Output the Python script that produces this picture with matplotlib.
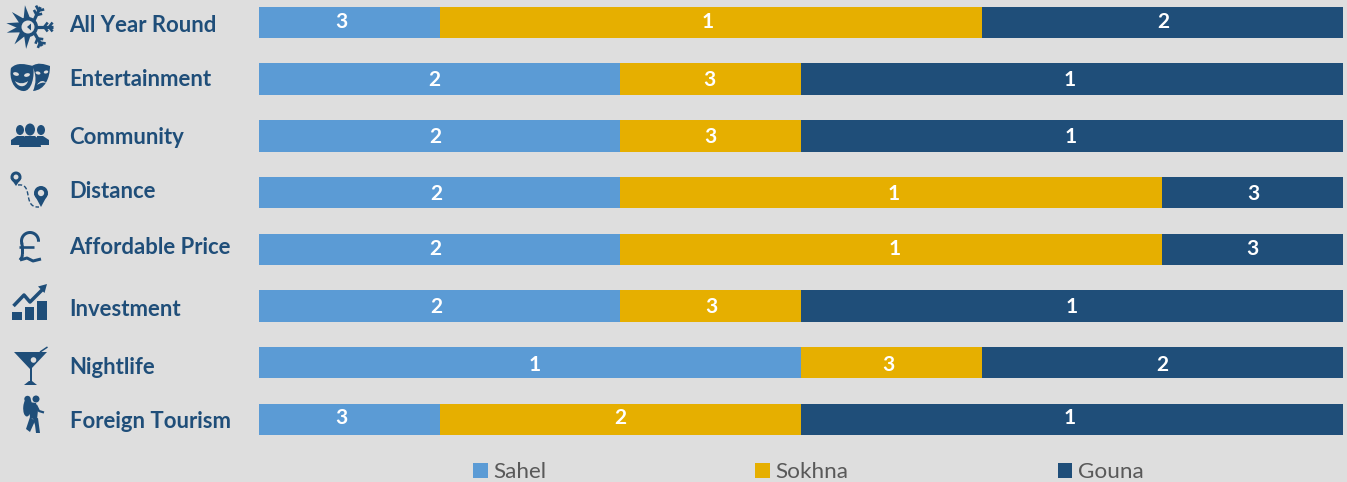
import numpy as np
import matplotlib
matplotlib.use("Agg")
import matplotlib.pyplot as plt
from matplotlib.patches import Polygon, Circle, Rectangle, Ellipse, PathPatch
from matplotlib.path import Path

categories = ["All Year Round", "Entertainment", "Community", "Distance",
              "Affordable Price", "Investment", "Nightlife", "Foreign Tourism"]
series_names = ["Sahel", "Sokhna", "Gouna"]
# Rank shown on each segment
sahel_rank = [3, 2, 2, 2, 2, 2, 1, 3]
sokhna_rank = [1, 3, 3, 1, 1, 3, 3, 2]
gouna_rank = [2, 1, 1, 3, 3, 1, 2, 1]
# Segment length (score) per rank: rank 1 -> 3, rank 2 -> 2, rank 3 -> 1
sahel_score = [1, 2, 2, 2, 2, 2, 3, 1]
sokhna_score = [3, 1, 1, 3, 3, 1, 1, 2]
gouna_score = [2, 3, 3, 1, 1, 3, 2, 3]

BG = "#DEDEDE"
NAVY = "#1F4E79"
colors = ["#5B9BD5", "#E6AF00", "#1F4E79"]
W, H = 1347, 482

plt.rcParams["font.family"] = ["Lato", "DejaVu Sans"]
fig = plt.figure(figsize=(W / 100, H / 100), dpi=100, facecolor=BG)

# Bars axes
x0, x1 = 259.2, 1343
top, step = 22.5, 56.7
ax = fig.add_axes([x0 / W, 0, (x1 - x0) / W, 1])
ax.set_xlim(0, 6)
ax.set_ylim((H - top) / step, -top / step)
ax.axis("off")

rows = np.arange(len(categories))
left = np.zeros(len(categories))
label_dx = [[-8, -3, 1], [-6, -1, -2], [-5, 0, -1], [-4, 2, 1], [-5, 3, 0],
            [-4, 1, 0], [4, -3, 0], [-8, 0, -2]]
label_dy = [-1, 1, 1, 1, 0, 1, 2, -1]
for s, (name, score, rank, color) in enumerate(zip(
        series_names, [sahel_score, sokhna_score, gouna_score],
        [sahel_rank, sokhna_rank, gouna_rank], colors)):
    ax.barh(rows, score, left=left, height=31.5 / step, color=color, label=name, linewidth=0)
    for r in rows:
        ax.annotate(str(rank[r]), (left[r] + score[r] / 2, r),
                    xytext=(label_dx[r][s] * 0.72, -label_dy[r] * 0.72),
                    textcoords="offset points", ha="center", va="center",
                    color="white", fontsize=15, fontweight="bold")
    left = left + np.array(score)

# Legend
ax.legend(loc="center left", bbox_to_anchor=((473 - x0) / (x1 - x0), 1 - 472.5 / H), ncol=3,
          frameon=False, fontsize=16.2, labelcolor="#595959", handlelength=0.65, handleheight=0.65,
          handletextpad=0.24, columnspacing=9.3, borderpad=0, borderaxespad=0)

# Overlay in pixel coordinates for category labels and icons
ov = fig.add_axes([0, 0, 1, 1], facecolor="none")
ov.set_xlim(0, W)
ov.set_ylim(H, 0)
ov.axis("off")

label_y = [26, 80, 138, 192, 247, 309, 367, 421]
for lab, y in zip(categories, label_y):
    ov.text(69.5, y, lab, color=NAVY, fontsize=15.9, fontweight="bold", ha="left", va="center")


def poly(pts, c=NAVY, **kw):
    ov.add_patch(Polygon(pts, closed=True, facecolor=c, edgecolor="none", **kw))


def circ(x, y, r, c=NAVY):
    ov.add_patch(Circle((x, y), r, facecolor=c, edgecolor="none"))


def line(xs, ys, w=2.0, c=NAVY, **kw):
    ov.plot(xs, ys, color=c, lw=w * 0.72, solid_capstyle=kw.pop("cap", "butt"), **kw)


def curve(verts, fc=NAVY):
    codes = [Path.MOVETO] + [Path.CURVE4] * (len(verts) - 2) + [Path.CLOSEPOLY]
    ov.add_patch(PathPatch(Path(verts, codes), facecolor=fc, edgecolor="none"))


# 1. Sun + snowflake
cx, cy = 28, 27
for deg in [98, 137, 170, 195, 232, 265]:
    a = np.deg2rad(deg)
    d = np.array([np.cos(a), -np.sin(a)])
    n = np.array([d[1], -d[0]])
    c = np.array([cx, cy])
    poly([c + d * 7 + n * 3.6, c + d * 7 - n * 3.6, c + d * 22])
circ(cx, cy, 10)
circ(cx, cy, 6.5, BG)
poly([(cx + 3, cy - 3.5), (cx + 3, cy + 3.5), (cx - 1, cy)], NAVY)
for deg in [-65, 0, 60]:
    a = np.deg2rad(deg)
    d = np.array([np.cos(a), np.sin(a)])
    n = np.array([-d[1], d[0]])
    c = np.array([cx + 3, cy])
    L = 22
    line([c[0] + d[0] * 5, c[0] + d[0] * L], [c[1] + d[1] * 5, c[1] + d[1] * L], 3.2)
    for t in (0.6, 0.82):
        p = c + d * L * t
        for sgn in (1, -1):
            e = p + d * 3.5 + n * 4.5 * sgn
            line([p[0], e[0]], [p[1], e[1]], 2.6)

# 2. Masks
curve([(11, 68), (17, 62), (25, 64), (33, 66),
       (35, 75), (32, 92), (23, 91),
       (13, 90), (9, 78), (11, 68), (11, 68)])
curve([(32, 66), (38, 62), (44, 64), (50, 66),
       (50, 78), (45, 90), (33, 91),
       (36, 84), (37, 75), (32, 66), (32, 66)])
ov.add_patch(Ellipse((16, 74), 6, 3.5, angle=15, facecolor=BG, edgecolor="none"))
ov.add_patch(Ellipse((27, 75), 6, 3.5, angle=-15, facecolor=BG, edgecolor="none"))
curve([(15, 81), (19, 84), (24, 84), (28, 81),
       (26, 88), (18, 88), (15, 81), (15, 81)], BG)
ov.add_patch(Ellipse((38, 73), 5, 3, angle=15, facecolor=BG, edgecolor="none"))
ov.add_patch(Ellipse((46, 72), 4.5, 3, angle=-15, facecolor=BG, edgecolor="none"))
curve([(37, 85), (40, 80), (44, 80), (46, 83),
       (43, 82), (40, 83), (37, 85), (37, 85)], BG)

# 3. Community
ov.add_patch(Ellipse((20, 130), 8, 10, facecolor=NAVY, edgecolor="none"))
ov.add_patch(Ellipse((41, 130), 8, 10, facecolor=NAVY, edgecolor="none"))
poly([(11, 145), (11, 140), (17, 136), (24, 136), (24, 145)])
poly([(49, 145), (49, 140), (43, 136), (36, 136), (36, 145)])
ov.add_patch(Rectangle((23.5, 124), 13, 14, facecolor=BG, edgecolor="none"))
ov.add_patch(Ellipse((30, 129.5), 10, 12, facecolor=NAVY, edgecolor="none"))
poly([(19, 147), (20, 140), (25, 136), (35, 136), (40, 140), (41, 147)])

# 4. Distance pins
for px, py, r, tip in [(16, 177, 5.5, 186), (41, 193, 7, 207)]:
    poly([(px - r, py + 1), (px + r, py + 1), (px, tip)])
    circ(px, py, r)
    circ(px, py, r * 0.45, BG)
t = np.linspace(0, 1, 40)
bx = (1 - t) ** 3 * 18 + 3 * (1 - t) ** 2 * t * 34 + 3 * (1 - t) * t ** 2 * 22 + t ** 3 * 39
by = (1 - t) ** 3 * 185 + 3 * (1 - t) ** 2 * t * 183 + 3 * (1 - t) * t ** 2 * 208 + t ** 3 * 207
ov.plot(bx, by, color=NAVY, lw=1.0, linestyle=(0, (3, 1.5)))

# 5. Pound sign
th = np.deg2rad(np.linspace(-5, 200, 30))
line(30 + 8.5 * np.cos(th), 241 - 8.5 * np.sin(th), 3)
line([21.7, 22.5, 22.5], [243, 247, 254], 3)
line([22.5, 22, 20], [254, 257, 260], 3)
line([20, 27, 33, 41], [260, 258, 261, 259], 3)
line([19, 34], [247, 247], 2.6)

# 6. Investment
for bx0, bx1, by0 in [(12, 22, 312), (24.5, 34, 307), (37, 47, 301)]:
    ov.add_patch(Rectangle((bx0, by0), bx1 - bx0, 320 - by0, facecolor=NAVY, edgecolor="none"))
line([13.5, 24, 30, 43], [306, 295, 302, 289], 3.5)
poly([(47, 284), (38, 286.5), (44.5, 293)])

# 7. Martini
poly([(14, 352), (47, 352), (31, 369), (30, 369)])
line([30.5, 30.5], [368, 383], 2)
poly([(24, 385), (37, 385), (32, 381), (29, 381)])
circ(33.5, 360, 2.8, BG)
line([40, 47.5], [352, 347], 1.5)

# 8. Hiker
circ(36, 399, 3.5)
ov.add_patch(Ellipse((27.5, 407), 8.5, 19, angle=5, facecolor=NAVY, edgecolor="none"))
circ(27.5, 399, 3.2)
poly([(29, 402), (36, 403), (38, 410), (37, 420), (30, 418)])
line([36, 39, 44], [405, 411, 412.5], 2.2)
poly([(30, 417), (35, 421), (30, 432), (26, 429)])
poly([(33, 419), (38, 418), (40, 433), (36, 433), (35, 425)])

fig.savefig("out.png", dpi=100, facecolor=BG)
